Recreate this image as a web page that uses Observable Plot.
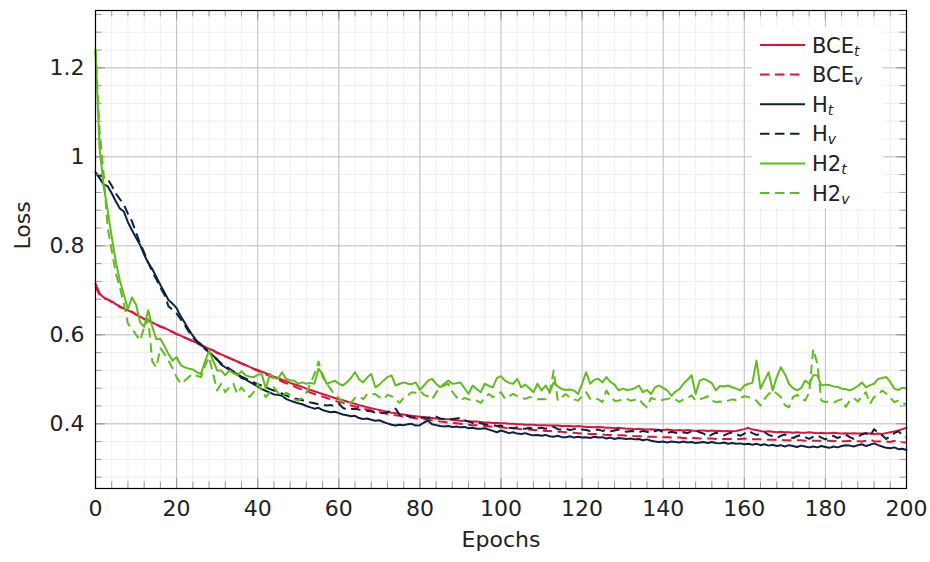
<!DOCTYPE html>
<html><head><meta charset="utf-8">
<script src="https://cdn.jsdelivr.net/npm/d3@7"></script>
<script src="https://cdn.jsdelivr.net/npm/@observablehq/plot@0.6"></script>
<style>body{margin:0;background:#fff;}</style>
</head><body><div id="chart"></div>
<script>
const epochs = d3.range(0, 201);
const bceT = [0.715,0.693,0.684,0.679,0.675,0.669,0.664,0.659,0.655,0.651,
0.646,0.641,0.636,0.632,0.628,0.623,0.619,0.615,0.611,0.606,
0.602,0.598,0.594,0.590,0.586,0.582,0.577,0.572,0.569,0.565,
0.560,0.556,0.552,0.548,0.544,0.540,0.536,0.532,0.528,0.524,
0.521,0.517,0.514,0.510,0.506,0.503,0.499,0.496,0.492,0.489,
0.486,0.483,0.479,0.476,0.473,0.470,0.467,0.464,0.461,0.458,
0.455,0.453,0.450,0.447,0.445,0.442,0.440,0.437,0.435,0.433,
0.431,0.429,0.427,0.425,0.424,0.422,0.421,0.419,0.418,0.417,
0.416,0.415,0.414,0.413,0.412,0.411,0.410,0.410,0.409,0.408,
0.407,0.407,0.406,0.405,0.405,0.404,0.403,0.403,0.402,0.402,
0.401,0.401,0.400,0.400,0.399,0.399,0.398,0.398,0.398,0.397,
0.397,0.397,0.396,0.396,0.396,0.395,0.395,0.395,0.394,0.395,
0.394,0.393,0.393,0.392,0.393,0.392,0.391,0.391,0.390,0.391,
0.390,0.389,0.389,0.388,0.389,0.388,0.387,0.388,0.387,0.386,
0.386,0.387,0.386,0.385,0.386,0.385,0.386,0.385,0.384,0.385,
0.385,0.384,0.385,0.384,0.384,0.383,0.384,0.383,0.384,0.386,
0.388,0.391,0.387,0.386,0.384,0.382,0.383,0.382,0.381,0.382,
0.381,0.381,0.380,0.381,0.380,0.380,0.381,0.380,0.379,0.380,
0.379,0.379,0.380,0.379,0.378,0.379,0.378,0.379,0.378,0.378,
0.379,0.378,0.377,0.378,0.377,0.379,0.381,0.383,0.385,0.388,
0.391];
const bceV = [0.708,0.690,0.682,0.680,0.673,0.670,0.662,0.660,0.654,0.652,
0.645,0.642,0.635,0.633,0.627,0.624,0.618,0.616,0.610,0.607,
0.601,0.598,0.593,0.590,0.585,0.582,0.576,0.573,0.568,0.565,
0.559,0.556,0.551,0.548,0.543,0.540,0.535,0.532,0.527,0.523,
0.519,0.515,0.511,0.507,0.503,0.499,0.495,0.491,0.488,0.484,
0.480,0.477,0.474,0.470,0.467,0.464,0.461,0.458,0.455,0.452,
0.449,0.447,0.444,0.441,0.439,0.437,0.434,0.432,0.430,0.428,
0.426,0.424,0.422,0.421,0.419,0.418,0.416,0.415,0.414,0.412,
0.411,0.410,0.409,0.408,0.407,0.405,0.404,0.403,0.402,0.401,
0.400,0.399,0.398,0.397,0.397,0.396,0.395,0.394,0.394,0.393,
0.392,0.391,0.390,0.390,0.389,0.388,0.388,0.387,0.386,0.386,
0.385,0.384,0.384,0.383,0.382,0.382,0.381,0.380,0.380,0.379,
0.378,0.378,0.377,0.377,0.376,0.376,0.375,0.375,0.374,0.374,
0.374,0.373,0.373,0.372,0.372,0.372,0.371,0.371,0.371,0.370,
0.370,0.370,0.369,0.369,0.369,0.368,0.368,0.368,0.368,0.367,
0.367,0.367,0.367,0.366,0.366,0.366,0.366,0.366,0.365,0.366,
0.367,0.366,0.365,0.365,0.365,0.364,0.364,0.364,0.364,0.364,
0.363,0.363,0.363,0.363,0.363,0.362,0.363,0.362,0.362,0.362,
0.362,0.362,0.361,0.362,0.361,0.361,0.362,0.361,0.361,0.360,
0.362,0.364,0.361,0.360,0.361,0.360,0.359,0.362,0.360,0.359,
0.358];
const hT = [0.965,0.952,0.938,0.934,0.918,0.900,0.884,0.877,0.853,0.835,
0.818,0.802,0.780,0.762,0.748,0.730,0.712,0.695,0.678,0.670,
0.660,0.642,0.627,0.612,0.598,0.586,0.579,0.570,0.562,0.553,
0.545,0.533,0.527,0.521,0.515,0.512,0.503,0.500,0.494,0.489,
0.484,0.478,0.474,0.470,0.466,0.465,0.463,0.456,0.452,0.449,
0.446,0.444,0.440,0.437,0.434,0.436,0.431,0.428,0.426,0.427,
0.424,0.421,0.419,0.417,0.418,0.413,0.411,0.412,0.409,0.407,
0.408,0.404,0.401,0.398,0.396,0.398,0.397,0.399,0.400,0.396,
0.397,0.403,0.407,0.399,0.397,0.395,0.394,0.395,0.393,0.394,
0.392,0.393,0.390,0.391,0.389,0.389,0.390,0.387,0.384,0.381,
0.385,0.382,0.379,0.381,0.378,0.377,0.379,0.376,0.374,0.375,
0.373,0.375,0.372,0.371,0.373,0.370,0.370,0.372,0.369,0.371,
0.369,0.370,0.368,0.371,0.369,0.370,0.367,0.369,0.366,0.368,
0.367,0.366,0.367,0.365,0.366,0.363,0.365,0.362,0.360,0.359,
0.360,0.358,0.360,0.359,0.358,0.360,0.358,0.359,0.357,0.358,
0.359,0.357,0.359,0.357,0.356,0.358,0.355,0.357,0.355,0.356,
0.354,0.355,0.353,0.355,0.352,0.354,0.351,0.353,0.350,0.352,
0.349,0.352,0.350,0.348,0.351,0.349,0.347,0.349,0.347,0.350,
0.348,0.346,0.349,0.347,0.350,0.352,0.351,0.349,0.352,0.354,
0.350,0.353,0.356,0.352,0.349,0.346,0.345,0.347,0.343,0.344,
0.341];
const hV = [0.962,0.958,0.955,0.950,0.935,0.918,0.905,0.893,0.872,0.855,
0.830,0.805,0.785,0.763,0.742,0.725,0.706,0.690,0.664,0.656,
0.648,0.635,0.622,0.607,0.594,0.584,0.576,0.568,0.560,0.552,
0.544,0.536,0.530,0.524,0.518,0.511,0.506,0.502,0.497,0.493,
0.489,0.486,0.482,0.478,0.475,0.472,0.468,0.464,0.460,0.457,
0.455,0.453,0.451,0.448,0.446,0.444,0.443,0.441,0.442,0.440,
0.445,0.436,0.432,0.433,0.434,0.432,0.431,0.429,0.428,0.425,
0.426,0.424,0.426,0.430,0.434,0.420,0.417,0.418,0.415,0.414,
0.413,0.414,0.413,0.415,0.416,0.412,0.411,0.410,0.411,0.412,
0.413,0.408,0.405,0.402,0.403,0.401,0.399,0.398,0.397,0.395,
0.396,0.393,0.391,0.390,0.392,0.389,0.389,0.391,0.388,0.390,
0.391,0.389,0.392,0.393,0.388,0.387,0.389,0.386,0.388,0.390,
0.387,0.386,0.384,0.385,0.387,0.384,0.386,0.383,0.385,0.387,
0.384,0.382,0.384,0.383,0.381,0.384,0.382,0.380,0.384,0.386,
0.381,0.379,0.382,0.380,0.378,0.381,0.379,0.383,0.385,0.381,
0.378,0.370,0.376,0.380,0.377,0.374,0.378,0.381,0.377,0.373,
0.378,0.384,0.379,0.375,0.377,0.381,0.375,0.372,0.368,0.373,
0.376,0.371,0.368,0.372,0.375,0.370,0.366,0.371,0.374,0.369,
0.365,0.370,0.373,0.368,0.372,0.376,0.370,0.366,0.371,0.376,
0.379,0.372,0.388,0.380,0.374,0.366,0.372,0.379,0.383,0.375,
0.370];
const h2T = [1.240,1.020,0.935,0.880,0.820,0.765,0.722,0.690,0.658,0.684,
0.668,0.628,0.618,0.655,0.618,0.590,0.591,0.575,0.557,0.542,
0.550,0.532,0.527,0.524,0.522,0.516,0.512,0.540,0.565,0.542,
0.520,0.520,0.509,0.520,0.514,0.509,0.518,0.509,0.506,0.505,
0.510,0.512,0.479,0.512,0.503,0.501,0.516,0.501,0.498,0.497,
0.490,0.493,0.490,0.492,0.490,0.524,0.511,0.490,0.493,0.497,
0.490,0.486,0.493,0.503,0.516,0.500,0.493,0.504,0.512,0.482,
0.488,0.497,0.505,0.509,0.486,0.490,0.493,0.490,0.489,0.493,
0.476,0.486,0.497,0.501,0.490,0.482,0.490,0.497,0.490,0.491,
0.493,0.480,0.467,0.486,0.478,0.471,0.490,0.485,0.482,0.503,
0.507,0.497,0.492,0.490,0.501,0.482,0.488,0.480,0.471,0.490,
0.475,0.486,0.471,0.493,0.484,0.478,0.476,0.477,0.475,0.467,
0.490,0.516,0.490,0.499,0.501,0.493,0.505,0.494,0.488,0.475,
0.479,0.476,0.477,0.480,0.486,0.471,0.476,0.467,0.482,0.486,
0.480,0.475,0.463,0.472,0.478,0.490,0.499,0.509,0.467,0.497,
0.501,0.497,0.491,0.475,0.485,0.484,0.486,0.482,0.479,0.475,
0.486,0.490,0.492,0.542,0.479,0.498,0.516,0.475,0.505,0.527,
0.512,0.490,0.480,0.475,0.480,0.497,0.490,0.509,0.509,0.486,
0.488,0.487,0.484,0.483,0.479,0.478,0.475,0.479,0.485,0.493,
0.482,0.487,0.490,0.501,0.503,0.505,0.494,0.479,0.476,0.481,
0.479];
const h2V = [1.240,1.060,0.962,0.840,0.790,0.738,0.707,0.670,0.625,0.614,
0.600,0.587,0.617,0.636,0.540,0.527,0.570,0.557,0.542,0.525,
0.505,0.490,0.497,0.505,0.512,0.508,0.505,0.530,0.550,0.512,
0.475,0.490,0.471,0.482,0.490,0.467,0.482,0.470,0.460,0.471,
0.490,0.475,0.460,0.471,0.482,0.470,0.460,0.470,0.465,0.455,
0.452,0.458,0.470,0.490,0.512,0.540,0.505,0.490,0.478,0.464,
0.458,0.449,0.452,0.447,0.458,0.462,0.455,0.467,0.466,0.467,
0.460,0.455,0.465,0.462,0.456,0.447,0.458,0.464,0.471,0.470,
0.475,0.465,0.462,0.455,0.470,0.482,0.486,0.490,0.472,0.460,
0.452,0.458,0.455,0.452,0.452,0.447,0.458,0.467,0.460,0.465,
0.471,0.456,0.462,0.467,0.462,0.458,0.456,0.460,0.458,0.455,
0.456,0.455,0.470,0.520,0.452,0.460,0.467,0.458,0.455,0.452,
0.462,0.471,0.456,0.458,0.455,0.449,0.475,0.460,0.452,0.452,
0.455,0.456,0.452,0.454,0.456,0.445,0.437,0.458,0.455,0.452,
0.454,0.456,0.458,0.455,0.449,0.455,0.458,0.464,0.452,0.455,
0.458,0.462,0.452,0.449,0.450,0.449,0.452,0.455,0.453,0.458,
0.462,0.460,0.457,0.452,0.441,0.456,0.467,0.475,0.468,0.460,
0.442,0.437,0.460,0.465,0.458,0.452,0.470,0.568,0.535,0.452,
0.449,0.450,0.447,0.452,0.455,0.438,0.452,0.458,0.450,0.462,
0.471,0.445,0.460,0.465,0.475,0.468,0.458,0.449,0.452,0.447,
0.443];

const xTicks = [0,20,40,60,80,100,120,140,160,180,200];
const xMinor = d3.range(0, 201, 4);
const yTicks = [0.4,0.6,0.8,1.0,1.2];
const yMinor = d3.range(7, 34).map(k => k * 0.04);

const RED = "#DC143C", NAVY = "#0C2340", GREEN = "#62BB1E";
const DASH = "9.5,5.5";
const series = [
  {name:"BCE", sub:"t", values:bceT, color:RED, dash:null},
  {name:"BCE", sub:"v", values:bceV, color:RED, dash:DASH},
  {name:"H", sub:"t", values:hT, color:NAVY, dash:null},
  {name:"H", sub:"v", values:hV, color:NAVY, dash:DASH},
  {name:"H2", sub:"t", values:h2T, color:GREEN, dash:null},
  {name:"H2", sub:"v", values:h2V, color:GREEN, dash:DASH}
];

const W = 930, H = 562, mL = 95, mT = 10, mR = 24, mB = 74;
const pw = W - mL - mR, ph = H - mT - mB;
const TICK = "#999999";

const lineMarks = series.map(s => Plot.line(
  s.values.map((v, i) => ({epoch: epochs[i], loss: v})),
  {x: "epoch", y: "loss", stroke: s.color, strokeWidth: 2,
   strokeDasharray: s.dash, strokeLinecap: s.dash ? "butt" : "round", strokeLinejoin: "round"}
));

const plot = Plot.plot({
  width: W, height: H,
  marginLeft: mL, marginTop: mT, marginRight: mR, marginBottom: mB,
  style: {fontFamily: "DejaVu Sans", fontSize: "22px", color: "#222", background: "white"},
  x: {domain: [0, 200]},
  y: {domain: [0.2546, 1.3288]},
  marks: [
    Plot.ruleX(xMinor, {x: d => d, stroke: "#efefef"}),
    Plot.ruleY(yMinor, {y: d => d, stroke: "#efefef"}),
    Plot.ruleX(xTicks, {x: d => d, stroke: "#c2c2c2"}),
    Plot.ruleY(yTicks, {y: d => d, stroke: "#c2c2c2"}),
    ...lineMarks,
    Plot.tickX(xMinor, {x: d => d, insetBottom: ph - 6.5, stroke: TICK}),
    Plot.tickX(xTicks, {x: d => d, insetBottom: ph - 10, stroke: TICK}),
    Plot.tickX(xMinor, {x: d => d, insetTop: ph - 6.5, stroke: TICK}),
    Plot.tickX(xTicks, {x: d => d, insetTop: ph - 10, stroke: TICK}),
    Plot.tickY(yMinor, {y: d => d, insetRight: pw - 6.5, stroke: TICK}),
    Plot.tickY(yTicks, {y: d => d, insetRight: pw - 10, stroke: TICK}),
    Plot.tickY(yMinor, {y: d => d, insetLeft: pw - 6.5, stroke: TICK}),
    Plot.tickY(yTicks, {y: d => d, insetLeft: pw - 10, stroke: TICK}),
    Plot.axisX(xTicks, {anchor: "bottom", tickSize: 0, tickPadding: 12, fontSize: 22, label: null}),
    Plot.axisY(yTicks, {anchor: "left", tickSize: 0, tickPadding: 11, fontSize: 22, label: null,
      tickFormat: d => String(+d.toFixed(1))}),
    Plot.text(["Loss"], {frameAnchor: "left", dx: -73, rotate: -90, fontSize: 22, fill: "#222"}),
    Plot.text(["Epochs"], {frameAnchor: "bottom", dy: 58, fontSize: 22, fill: "#222"}),
    Plot.frame({stroke: "black", strokeWidth: 1.2})
  ]
});

document.getElementById("chart").appendChild(plot);

const svg = d3.select(plot);
const lg = svg.append("g").attr("text-anchor", "start");
lg.append("rect").attr("x", 752).attr("y", 27).attr("width", 131).attr("height", 181).attr("fill", "white");
series.forEach((s, i) => {
  const y = 45 + i * 29.6;
  lg.append("line").attr("x1", 760).attr("x2", 805).attr("y1", y).attr("y2", y)
    .attr("stroke", s.color).attr("stroke-width", 2)
    .attr("stroke-dasharray", s.dash);
  const t = lg.append("text").attr("x", 812).attr("y", y + 7.5)
    .attr("text-anchor", "start")
    .attr("font-size", 21).attr("fill", "#222").attr("font-family", "DejaVu Sans");
  t.append("tspan").text(s.name);
  t.append("tspan").attr("font-size", 14).attr("font-style", "italic").attr("dy", 3).text(s.sub);
});
</script>
</body></html>
